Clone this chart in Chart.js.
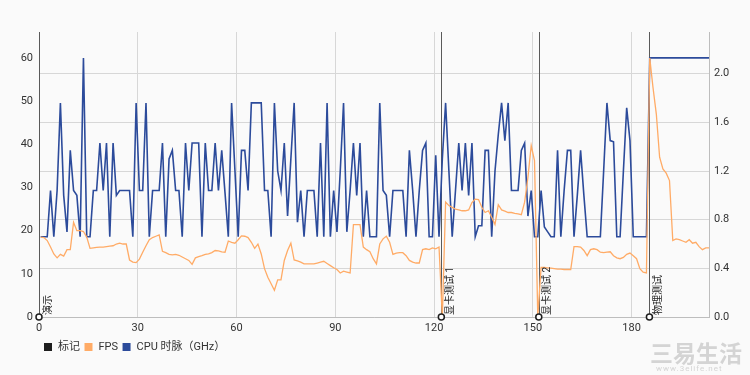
<!DOCTYPE html>
<html>
<head>
<meta charset="utf-8">
<script src="https://cdn.jsdelivr.net/npm/chart.js@4.4.0/dist/chart.umd.min.js"></script>
<style>
html, body { margin: 0; padding: 0; background: #fafafa; }
#wrap { position: relative; width: 750px; height: 375px; overflow: hidden; }
#watermark { position: absolute; left: 650px; top: 339px; color: #d4d4d4; font-family: "Noto Sans CJK SC", sans-serif; font-size: 23px; line-height: 26px; letter-spacing: 0px; font-weight: bold; }
#watermark small { display: block; font-family: Roboto, sans-serif; font-size: 8px; line-height: 8px; font-weight: normal; letter-spacing: 1px; margin-left: 6px; }
</style>
</head>
<body>
<div id="wrap">
  <canvas id="chart" width="750" height="375"></canvas>
  <div id="watermark">三易生活<small>www.3elife.net</small></div>
</div>
<script>
// marker events on the time axis
const markerX = [0, 122.2, 151.8, 185.4];
const markerLabels = ["演示", "显卡测试 1", "显卡测试 2", "物理测试"];

// one sample per second, first one half a second in
const firstSampleX = 0.5;

const fps = [
  18.5, 18.4, 17.7, 16.2, 14.6, 13.7, 14.5, 14.1, 15.6, 15.6,
  21.9, 20.0, 20.0, 19.8, 18.5, 15.9, 16.0, 16.1, 16.2, 16.2,
  16.3, 16.4, 16.5, 16.9, 17.1, 16.9, 16.9, 13.2, 12.7, 12.6,
  13.4, 15.0, 16.5, 17.9, 18.4, 18.7, 19.0, 15.2, 14.9, 14.5,
  14.4, 14.5, 14.3, 13.9, 13.5, 13.1, 12.2, 13.7, 14.0, 14.2,
  14.5, 14.6, 14.9, 15.4, 15.3, 15.1, 15.0, 17.6, 17.3, 17.1,
  17.9, 18.8, 18.7, 18.4, 17.3, 15.9, 16.9, 14.6, 11.2, 9.2,
  7.7, 6.2, 8.6, 8.6, 13.1, 15.4, 17.1, 13.2, 13.0, 12.7,
  12.3, 12.3, 12.3, 12.3, 12.5, 12.7, 12.9, 12.4, 11.9, 11.4,
  11.0, 10.2, 10.6, 10.4, 10.2, 21.4, 21.4, 21.4, 16.2, 15.6,
  15.1, 13.5, 12.3, 16.9, 18.1, 18.7, 17.3, 14.5, 14.8, 14.9,
  14.9, 14.2, 13.1, 12.7, 12.5, 12.5, 15.6, 15.8, 15.6, 16.0,
  15.8, 16.2, 0, 26.6, 25.8, 25.4, 25.0, 24.8, 24.6, 24.6,
  24.8, 26.5, 27.3, 27.2, 25.4, 24.2, 24.6, 23.1, 21.4, 26.0,
  24.8, 24.5, 24.2, 24.2, 24.0, 23.9, 23.7, 26.6, 32.3, 39.7,
  36.2, 0, 11.5, 11.5, 11.4, 11.3, 11.2, 11.1, 11.1, 11.0,
  11.0, 11.0, 16.3, 16.3, 16.2, 15.4, 14.2, 15.6, 15.8, 15.6,
  15.0, 14.9, 15.0, 15.1, 14.2, 13.7, 13.5, 13.8, 14.5, 14.8,
  14.2, 13.5, 11.2, 10.4, 10.2, 60.0, 53.1, 47.0, 37.0, 34.3,
  33.3, 31.6, 17.7, 18.1, 17.9, 17.6, 17.3, 17.9, 17.1, 17.3,
  16.3, 15.6, 16.0, 16.0
];

const cpuGHz = [
  0.66, 0.66, 0.66, 1.04, 0.66, 1.04, 1.76, 1.00, 0.70, 1.37,
  1.04, 1.00, 0.66, 2.13, 0.66, 0.66, 1.04, 1.04, 1.43, 1.04,
  1.43, 0.66, 1.43, 1.00, 1.04, 1.04, 1.04, 1.04, 0.66, 1.76,
  1.04, 1.04, 1.76, 0.66, 1.04, 1.04, 1.04, 1.43, 0.66, 1.30,
  1.37, 1.04, 1.04, 0.66, 1.43, 1.04, 1.43, 1.43, 1.43, 0.66,
  1.43, 1.04, 1.04, 1.43, 1.04, 1.37, 1.02, 0.66, 1.76, 1.21,
  0.66, 1.37, 1.37, 1.04, 1.76, 1.76, 1.76, 1.76, 1.04, 1.04,
  0.66, 1.76, 1.20, 1.04, 1.43, 0.83, 1.30, 1.76, 0.78, 1.04,
  0.66, 1.04, 1.04, 1.04, 0.66, 1.43, 0.66, 1.76, 0.66, 1.04,
  0.70, 1.20, 1.76, 0.70, 1.04, 1.43, 1.00, 1.43, 0.66, 1.04,
  0.66, 0.66, 0.66, 1.76, 1.04, 1.00, 0.66, 1.04, 1.04, 1.04,
  1.04, 0.66, 1.37, 1.04, 0.66, 1.04, 1.37, 1.43, 0.66, 0.66,
  1.33, 0.66, 1.30, 1.76, 1.20, 0.66, 1.04, 1.43, 1.04, 1.43,
  1.00, 1.43, 0.66, 0.75, 0.75, 1.37, 1.37, 0.66, 1.20, 1.50,
  1.76, 1.45, 1.76, 1.04, 1.04, 1.04, 1.37, 1.43, 0.83, 1.04,
  0.66, 0.66, 1.04, 0.74, 0.70, 0.66, 0.66, 1.37, 0.66, 1.04,
  1.37, 1.37, 0.66, 1.00, 1.37, 1.00, 0.66, 0.66, 0.66, 0.66,
  0.66, 1.20, 1.76, 1.45, 1.44, 0.66, 0.66, 1.20, 1.72, 1.45,
  0.66, 0.66, 0.66, 0.66, 0.66, 2.13, 2.13, 2.13, 2.13, 2.13,
  2.13, 2.13, 2.13, 2.13, 2.13, 2.13, 2.13, 2.13, 2.13, 2.13,
  2.13, 2.13, 2.13, 2.13
];

// tick labels
const xTickValues = [0, 30, 60, 90, 120, 150, 180];
const fpsTickValues = [0, 10, 20, 30, 40, 50, 60];
const cpuTickValues = [0, 0.4, 0.8, 1.2, 1.6, 2.0];

const markerColor = "#1e1e1e";
const fpsColor = "#ffab66";
const cpuColor = "#2c4b9b";
const gridColor = "#d7d7d7";
const axisColor = "#bdbdbd";

Chart.defaults.font.family = 'Roboto, "Noto Sans CJK SC", sans-serif';
Chart.defaults.font.size = 11;
Chart.defaults.color = "#333";

const markerPlugin = {
    id: "markers",
    beforeDatasetsDraw(chart) {
        const { ctx, chartArea, scales: { x } } = chart;
        ctx.save();
        ctx.strokeStyle = "#5a5a5a";
        ctx.lineWidth = 1;
        markerX.forEach(v => {
            const px = Math.round(x.getPixelForValue(v)) + 0.5;
            ctx.beginPath();
            ctx.moveTo(px, chartArea.top);
            ctx.lineTo(px, chartArea.bottom);
            ctx.stroke();
        });
        ctx.restore();
    },
    afterDatasetsDraw(chart) {
        const { ctx, chartArea, scales: { x } } = chart;
        ctx.save();
        ctx.fillStyle = "#222";
        ctx.font = '10px Roboto, "Noto Sans CJK SC", sans-serif';
        ctx.textAlign = "left";
        ctx.textBaseline = "middle";
        markerX.forEach((v, i) => {
            const px = x.getPixelForValue(v);
            ctx.save();
            ctx.translate(px + 9, chartArea.bottom - 2);
            ctx.rotate(-Math.PI / 2);
            ctx.fillText(markerLabels[i], 0, 0);
            ctx.restore();
        });
        ctx.restore();
    }
};

const legendPlugin = {
    id: "bottomLegend",
    afterDraw(chart) {
        const ctx = chart.ctx;
        let cx = 44;
        const cy = 347;
        ctx.save();
        ctx.font = '11px Roboto, "Noto Sans CJK SC", sans-serif';
        ctx.textBaseline = "middle";
        ctx.textAlign = "left";
        chart.data.datasets.forEach(ds => {
            ctx.fillStyle = ds.legendColor;
            ctx.fillRect(cx, cy - 4, 8, 8);
            ctx.fillStyle = "#333";
            ctx.fillText(ds.label, cx + 14, cy);
            cx += 14 + ctx.measureText(ds.label).width + 4.5;
        });
        ctx.restore();
    }
};

new Chart(document.getElementById("chart"), {
    type: "line",
    data: {
        datasets: [
            {
                label: "标记",
                legendColor: markerColor,
                data: markerX.map(v => ({ x: v, y: 0 })),
                showLine: false,
                yAxisID: "y",
                pointRadius: 3,
                pointBackgroundColor: "#ffffff",
                pointBorderColor: markerColor,
                pointBorderWidth: 1.5,
                borderColor: markerColor,
                backgroundColor: markerColor,
                clip: false
            },
            {
                label: "FPS",
                legendColor: fpsColor,
                data: fps.map((v, i) => ({ x: firstSampleX + i, y: v })),
                yAxisID: "y",
                borderColor: fpsColor,
                backgroundColor: fpsColor,
                borderWidth: 1.3,
                pointRadius: 0,
                tension: 0
            },
            {
                label: "CPU 时脉（GHz）",
                legendColor: cpuColor,
                data: cpuGHz.map((v, i) => ({ x: firstSampleX + i, y: v })),
                yAxisID: "y1",
                borderColor: cpuColor,
                backgroundColor: cpuColor,
                borderWidth: 1.6,
                pointRadius: 0,
                tension: 0
            }
        ]
    },
    options: {
        responsive: false,
        animation: false,
        events: [],
        layout: { padding: { top: 32, bottom: 38, left: 0, right: 0 } },
        plugins: {
            legend: { display: false },
            tooltip: { enabled: false }
        },
        scales: {
            x: {
                type: "linear",
                min: 0,
                max: 203.5,
                afterBuildTicks: axis => { axis.ticks = xTickValues.map(v => ({ value: v })); },
                afterFit: axis => { axis.height = 20; },
                grid: { color: gridColor, drawTicks: false },
                border: { color: axisColor },
                ticks: { padding: 5, maxRotation: 0 }
            },
            y: {
                position: "left",
                min: 0,
                max: 66,
                afterBuildTicks: axis => { axis.ticks = fpsTickValues.map(v => ({ value: v })); },
                afterFit: axis => { axis.width = 39; },
                grid: { display: false, drawTicks: false },
                border: { color: axisColor },
                ticks: { padding: 6 }
            },
            y1: {
                position: "right",
                min: 0,
                max: 2.343,
                afterBuildTicks: axis => { axis.ticks = cpuTickValues.map(v => ({ value: v })); },
                afterFit: axis => { axis.width = 41; },
                grid: { color: gridColor, drawTicks: false },
                border: { color: axisColor },
                ticks: { padding: 5, callback: v => v.toFixed(1) }
            }
        }
    },
    plugins: [markerPlugin, legendPlugin]
});
</script>
</body>
</html>
